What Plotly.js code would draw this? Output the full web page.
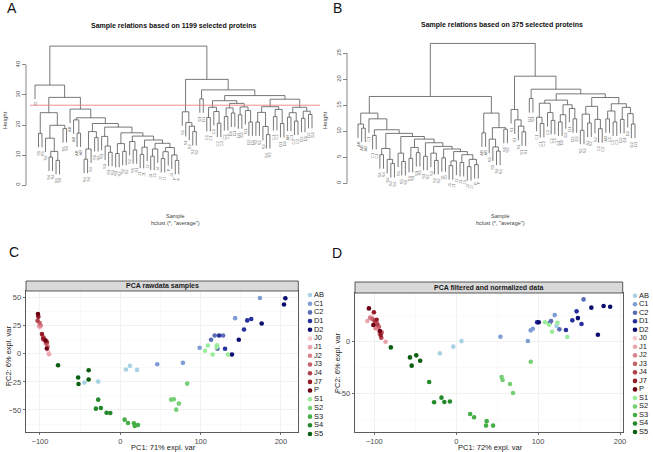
<!DOCTYPE html>
<html><head><meta charset="utf-8">
<script src="https://cdn.plot.ly/plotly-3.0.1.min.js"></script>
<style>html,body{margin:0;padding:0;background:#fff}#chart{width:653px;height:452px}</style>
</head><body><div id="chart"></div>
<script>
// ---------------- DATA ----------------
const groups = ["AB","C1","C2","D1","D2","J0","J1","J2","J3","J4","J7","P","S1","S2","S3","S4","S5"];
const groupColors = ["#a8d2e3","#7d9dd4","#5a6db6","#27309c","#0a0d6e","#f7c8ce","#eba3ad","#da828c","#c6616b","#b1424c","#951b27","#6d0012","#9aeb9a","#75d075","#46ae46","#23892a","#0b5e12"];

// Panel C: PCA raw data
const rawGroup = ["AB","AB","AB","AB","AB","C1","C1","C1","C1","C1","C2","C2","C2","C2","D1","D1","D1","D1","D1","D2","D2","D2","D2","D2",
 "J0","J0","J0","J1","J1","J1","J2","J2","J2","J3","J3","J3","J4","J4","J4","J7","J7","J7","P","P","P",
 "S1","S1","S1","S1","S1","S1","S2","S2","S2","S2","S2","S3","S3","S3","S3","S3","S4","S4","S4","S4","S4","S5","S5","S5","S5","S5"];
const rawPC1 = [-44.6,-27.5,7,12,20.8, 46,78,98.8,143,173.8, 113,117.5,128,121, 123,130.4,154,158,163, 139,147.5,176,203.8,205.5,
 -100,-93,-89.5, -101,-95,-88.8, -99,-96.3,-90.4, -100.4,-94.6,-92, -103,-95.4,-91.3, -102,-97.5,-96, -102.5,-91.5,-93,
 105.5,109,115,120.4,120,134, 63.3,66.7,72.9,69.6,83.3, 5.4,9.6,17,18,22, -27.5,-30.4,-24.2,-17.1,-12.5, -77.5,-52.5,-52,-39.4,-39.4];
const rawPC2 = [-25.6,-24.7,-14,-10.7,-14.3, -9.2,-8,5.4,31.8,49.7, 12.5,16.4,16.4,4.5, 16.4,4.5,21.7,29.8,31, -0.6,12.5,27,44,49.5,
 23.5,9.5,2, 24.5,12,-0.3, 25.3,15.2,6.5, 27.4,12.8,9, 29.5,14,10.4, 33,17.6,13.5, 35.4,4.8,11.8,
 2.7,7.5,-0.6,7.7,6,-0.6, -40.8,-40.5,-44.3,-49.7,-26.5, -58.6,-61.6,-61.9,-64.3,-63.4, -40.8,-48.8,-48.2,-52.4,-52.7, -10.1,-21.1,-26.8,-14.6,-22.9];

// Panel D: PCA filtered and normalized data
const normGroup = ["AB","AB","AB","AB","C1","C1","C1","C1","C1","C2","C2","C2","C2","C2","D1","D1","D1","D1","D1","D2","D2","D2","D2","D2","D2",
 "J0","J0","J0","J1","J1","J1","J2","J2","J2","J3","J3","J3","J4","J4","J4","J7","J7","J7","P","P","P",
 "S1","S1","S1","S1","S1","S2","S2","S2","S2","S2","S3","S3","S3","S3","S3","S4","S4","S4","S4","S4","S5","S5","S5","S5","S5"];
const normPC1 = [-20,-3.6,6.5,122.4, 54,87.5,91,93.6,120.3, 98.8,114.2,115.8,126,155.5, 99,134,141.8,147,153, 100.8,148.6,165,173,180,188,
 -103.5,-95,-97, -108.5,-86.3,-99.5, -105.3,-98.4,-93.5, -102.4,-94.4,-91, -99.6,-96.3,-91.5, -100.5,-97.2,-92.3, -106.6,-101.2,-93.2,
 108.5,113.4,123.6,117,135.7, 55.4,56.6,65.7,69.4,91, 17,21.8,37.2,36.4,45, -33,-27,-18,-14.5,-7.7, -79.8,-56.5,-48.8,-44,-54.4];
const normPC2 = [-11.3,-4.8,0.6,15.2, 4.8,0.7,11,12.6,25.8, 18.8,18.4,20,12,41, 18.8,11.3,20.7,29.4,17.1, 18.8,22.9,33,6.8,34.6,33.9,
 24.5,11,18.5, 20,0,17, 23.2,13,8, 22,14.5,9, 20,16.8,3.9, 28.5,21.3,6.5, 32.3,16.2,10.4,
 18.8,16.5,18.4,9.7,4.5, -34.2,-37.1,-41,-49.7,-19.4, -70,-73.2,-77,-81.3,-81.3, -39,-58.7,-54.2,-58.4,-58, -5.5,-15.2,-13.2,-18.4,-23.2];

// Dendrogram A (1199 proteins): node = [height, left, right], leaf = label
const treeA = [46.3,
  [33.3, "J0",
    [29.2,
      [24.1, [17.2,"S5","S5"], [19.9, [15.6,"S4",[11.2,[9.3,"S4","S4"],[8.2,"S5","S4"]]], [18.8,"S5","S4"]]],
      [25.3, "AB",
        [22.4,
          [21.7, "AB", [17.3,"AB","AB"]],
          [20.5,
            [17.8, [12.0,[8.6,"S4","S4"],"S4"], [15.8,"S5","S5"]],
            [19.3,
              [16.2, "S3", [13.0,"S3",[10.9,"S3","S3"]]],
              [17.4,
                [13.8, [10.5,"S3","S2"], [11.2,"S2","S2"]],
                [16.3,
                  [14.5, "S2", [11.7,"S1","S1"]],
                  [15.0,
                    [12.6, [10.2,"J1","J1"], "J2"],
                    [13.9,
                      [12.0, [9.6,"J3","J3"], "J4"],
                      [12.5, [11.1,[8.8,"J7","J7"],"P"], [10.0,"J4",[8.2,"P","P"]]]]]]]]]]]]],
  [35.2,
    [24.4, "S1", [20.8, "S1", [19.6, "S2", [17.8,"S2","S2"]]]],
    [31.7,
      [28.7, "D1", "D1"],
      [29.8,
        [28.1,
          [25.9, [22.5,"C1","C1"], [24.5,"C2",[20.6,"C2","C2"]]],
          [27.2, [25.7,[22.8,"C2","C1"],[24.0,"D1","D1"]], [26.0,[23.4,"D2","D2"],[24.8,"D1",[21.0,"D2","D2"]]]]],
        [28.6,
          [26.1, [24.2,[21.0,"S2","S2"],[19.5,"S2",[16.8,"S2","S2"]]], [25.2,[22.8,"C1","C2"],[20.5,"D1","D1"]]],
          [25.9, [24.1,[22.6,"AB","C1"],[21.3,"C2","C2"]], [24.6,[22.2,"D2","D1"],[23.5,"D2","D2"]]]]]]]];
const cutHeightA = 26.6;

// Dendrogram B (375 proteins)
const treeB = [26.9,
  [16.7,
    [13.5,
      [11.4, "AB", [10.6,"AB","AB"]],
      [12.4, "C1",
        [10.3, [9.2,"C1","C1"],
          [9.6, [6.7,[5.5,"S4","S4"],[4.6,"S4",[3.8,"S4","S4"]]],
            [9.0, [5.8,"S5",[4.2,"S5","S5"]],
              [8.5, [6.9,[4.8,"S3","S3"],[5.9,"S3","S3"]],
                [7.8, [5.2,"S3","S2"],
                  [7.1, [5.8,"S2",[4.4,"S2","S2"]],
                    [6.6, [4.9,"J0","J0"],
                      [6.1, [4.3,[3.4,"J1","J1"],"J2"],
                        [5.5, [4.0,"J3","J3"], [4.6,[3.2,"J4","J7"],[3.6,"P","P"]]]]]]]]]]]]],
    [13.5, [9.7,"AB","AB"], [10.7, [8.5,"S5",[7.0,"S5",[6.2,"S4","S4"]]], [10.4,"S5","S5"]]]],
  [20.6,
    [14.2, "S1", [12.2, "S1", [11.0, "S1", [9.9,"S1","S1"]]]],
    [18.1,
      [16.3, "D1", "D1"],
      [17.2,
        [16.0, [15.4,[12.7,"C1",[11.5,"C1","C2"]],[13.6,"C2",[12.1,"C2","C2"]]], [15.1,[13.2,[11.8,"D1","D2"],"D2"],[14.4,"D1",[12.4,"D2","D2"]]]],
        [16.5, [14.8,[13.3,[10.2,"S2","S2"],[11.6,"S2","S2"]],[12.3,"S2",[10.5,"C1","C2"]]], [15.3,[13.9,[12.4,"AB","C1"],[11.8,"C2","C2"]],[14.6,[12.3,"D2","D1"],[13.4,"D2",[11.4,"D2","D1"]]]]]]]]];

const dendroTicksA = [0,10,20,30,40];
const dendroTicksB = [0,5,10,15,20,25];

// ---------------- HELPERS ----------------
const W = 653, H = 452;
const fx = p => p / W;
const fy = p => 1 - p / H;
const FONT = "Liberation Sans, Arial, Helvetica, sans-serif";

function layoutTree(tree, hang) {
  const xs = [], ys = [], leaves = [];
  let idx = 0;
  function rec(node, parentH) {
    if (typeof node === "string") {
      idx++;
      const y = parentH - hang;
      leaves.push({x: idx, y: y, label: node});
      return {x: idx, y: y};
    }
    const h = node[0];
    const a = rec(node[1], h), b = rec(node[2], h);
    xs.push(a.x, a.x, b.x, b.x, null);
    ys.push(a.y, h, h, b.y, null);
    return {x: (a.x + b.x) / 2, y: h};
  }
  rec(tree, tree[0]);
  return {xs, ys, leaves, n: idx};
}

const traces = [];
const annotations = [];
const shapes = [];

function ann(px, py, text, o) {
  annotations.push(Object.assign({
    xref: "paper", yref: "paper", x: fx(px), y: fy(py), text: text, showarrow: false,
    xanchor: "center", yanchor: "middle", font: {family: FONT, size: 7, color: "#222"}
  }, o || {}));
}

// ---------------- DENDROGRAMS ----------------
function dendro(tree, ax, ay, leafPx0, leafPx1, domPx0, domPx1) {
  const hang = 0.1 * tree[0];
  const t = layoutTree(tree, hang);
  const s = (leafPx1 - leafPx0) / (t.n - 1);
  const r0 = 1 - (leafPx0 - domPx0) / s;
  const r1 = t.n + (domPx1 - leafPx1) / s;
  traces.push({type: "scatter", mode: "lines", x: t.xs, y: t.ys, xaxis: ax, yaxis: ay,
    line: {color: "#555", width: 0.8}, hoverinfo: "skip", showlegend: false, cliponaxis: false});
  t.leaves.forEach(l => {
    annotations.push({xref: ax, yref: ay, x: l.x, y: l.y, text: l.label, showarrow: false,
      textangle: -90, xanchor: "center", yanchor: "top", yshift: -1,
      font: {family: FONT, size: 4.2, color: "#777"}});
  });
  return [r0, r1];
}

const rA = dendro(treeA, "x", "y", 35, 312, 30, 318);
const rB = dendro(treeB, "x2", "y2", 358, 635, 352, 640);

// ---------------- PCA ----------------
function pca(groupArr, xArr, yArr, ax, ay) {
  groups.forEach((g, gi) => {
    const xs = [], ys = [];
    groupArr.forEach((gg, i) => { if (gg === g) { xs.push(xArr[i]); ys.push(yArr[i]); } });
    traces.push({type: "scatter", mode: "markers", x: xs, y: ys, xaxis: ax, yaxis: ay, name: g,
      marker: {color: groupColors[gi], size: 4.6, line: {width: 0}}, hoverinfo: "skip", showlegend: false});
  });
}
pca(rawGroup, rawPC1, rawPC2, "x3", "y3");
pca(normGroup, normPC1, normPC2, "x4", "y4");

// custom legends (drawn from the group arrays)
function legend(ax, ay) {
  traces.push({type: "scatter", mode: "markers+text", x: groups.map(() => 0.5), y: groups.map((g, i) => i),
    text: groups, textposition: "middle right", xaxis: ax, yaxis: ay, cliponaxis: false,
    textfont: {family: FONT, size: 7.5, color: "#1a1a1a"},
    marker: {color: groupColors, size: 4.6, line: {width: 0}}, hoverinfo: "skip", showlegend: false});
}
legend("x5", "y5");
legend("x6", "y6");

// ---------------- LAYOUT ----------------
const hidden = {visible: false, showgrid: false, zeroline: false, fixedrange: true};
const dendroY = (pos, dom, range, ticks) => ({
  domain: dom, range: range, anchor: "free", position: pos, showgrid: false, zeroline: false, showline: false,
  ticks: "outside", ticklen: 4, tickwidth: 0.7, tickcolor: "#555", tickvals: ticks, tickangle: -90,
  tickfont: {family: FONT, size: 6, color: "#555"}
});
const pcaX = (dom, range, anchor) => ({
  domain: dom, range: range, anchor: anchor, tickmode: "linear", tick0: 0, dtick: 100,
  ticks: "outside", ticklen: 2.5, tickwidth: 0.7, tickcolor: "#333",
  tickfont: {family: FONT, size: 7.5, color: "#4d4d4d"},
  showgrid: true, gridcolor: "#ebebeb", gridwidth: 0.7,
  minor: {tickmode: "linear", tick0: 0, dtick: 50, showgrid: true, gridcolor: "#f4f4f4", gridwidth: 0.5},
  zeroline: false, showline: true, mirror: true, linecolor: "#333", linewidth: 0.8
});
const pcaY = (dom, range, anchor, dt) => ({
  domain: dom, range: range, anchor: anchor, tickmode: "linear", tick0: 0, dtick: dt,
  ticks: "outside", ticklen: 2.5, tickwidth: 0.7, tickcolor: "#333",
  tickfont: {family: FONT, size: 7.5, color: "#4d4d4d"},
  showgrid: true, gridcolor: "#ebebeb", gridwidth: 0.7,
  minor: {tickmode: "linear", tick0: 0, dtick: dt / 2, showgrid: true, gridcolor: "#f4f4f4", gridwidth: 0.5},
  zeroline: false, showline: true, mirror: true, linecolor: "#333", linewidth: 0.8
});

// dendrogram axis lines and cut line
shapes.push({type: "line", xref: "paper", yref: "y", x0: fx(26), x1: fx(26), y0: 0, y1: 40, line: {color: "#555", width: 0.7}});
shapes.push({type: "line", xref: "paper", yref: "y2", x0: fx(347), x1: fx(347), y0: 0, y1: 25, line: {color: "#555", width: 0.7}});
shapes.push({type: "line", xref: "paper", yref: "y", x0: fx(30), x1: fx(320), y0: cutHeightA, y1: cutHeightA, line: {color: "#f08080", width: 0.9}});

// facet strips
shapes.push({type: "rect", xref: "paper", yref: "paper", x0: fx(26), x1: fx(298.3), y0: fy(291), y1: fy(281), fillcolor: "#d9d9d9", line: {color: "#333", width: 0.8}});
shapes.push({type: "rect", xref: "paper", yref: "paper", x0: fx(355), x1: fx(622.7), y0: fy(293), y1: fy(282), fillcolor: "#d9d9d9", line: {color: "#333", width: 0.8}});

// texts
ann(12, 8, "A", {font: {family: FONT, size: 14, color: "#111"}});
ann(337, 8, "B", {font: {family: FONT, size: 14, color: "#111"}});
ann(13.5, 252, "C", {font: {family: FONT, size: 14, color: "#111"}});
ann(337, 253, "D", {font: {family: FONT, size: 14, color: "#111"}});

ann(173, 26, "<b>Sample relations based on 1199 selected proteins</b>", {font: {family: FONT, size: 7, color: "#111"}});
ann(502, 25, "<b>Sample relations based on 375 selected proteins</b>", {font: {family: FONT, size: 7, color: "#111"}});
ann(5, 120, "Height", {textangle: -90, font: {family: FONT, size: 6, color: "#444"}});
ann(325, 120, "Height", {textangle: -90, font: {family: FONT, size: 6, color: "#444"}});
ann(175, 216, "Sample", {font: {family: FONT, size: 5.5, color: "#444"}});
ann(175, 222.5, "hclust (*, \"average\")", {font: {family: FONT, size: 5.5, color: "#444"}});
ann(500, 216, "Sample", {font: {family: FONT, size: 5.5, color: "#444"}});
ann(500, 222.5, "hclust (*, \"average\")", {font: {family: FONT, size: 5.5, color: "#444"}});

ann(162, 286, "<b>PCA rawdata samples</b>", {font: {family: FONT, size: 7, color: "#1a1a1a"}});
ann(489, 287.5, "<b>PCA filtered and normalized data</b>", {font: {family: FONT, size: 7, color: "#1a1a1a"}});
ann(163, 447.5, "PC1: 71% expl. var", {font: {family: FONT, size: 7.5, color: "#1a1a1a"}});
ann(490, 447.5, "PC1: 72% expl. var", {font: {family: FONT, size: 7.5, color: "#1a1a1a"}});
ann(8, 356, "PC2: 6% expl. var", {textangle: -90, font: {family: FONT, size: 7.5, color: "#1a1a1a"}});
ann(337, 363, "PC2: 6% expl. var", {textangle: -90, font: {family: FONT, size: 7.5, color: "#1a1a1a"}});

const layout = {
  width: W, height: H, margin: {l: 0, r: 0, t: 0, b: 0}, paper_bgcolor: "#fff", plot_bgcolor: "rgba(0,0,0,0)",
  showlegend: false, font: {family: FONT},
  xaxis: Object.assign({domain: [fx(30), fx(318)], range: rA, anchor: "y"}, hidden),
  yaxis: dendroY(fx(26), [fy(200), fy(40)], [-5, 48.33], dendroTicksA),
  xaxis2: Object.assign({domain: [fx(352), fx(640)], range: rB, anchor: "y2"}, hidden),
  yaxis2: dendroY(fx(347), [fy(200), fy(40)], [-3.21, 27.56], dendroTicksB),
  xaxis3: pcaX([fx(26), fx(298.3)], [-117.4, 221.6], "y3"),
  yaxis3: pcaY([fy(432), fy(291)], [-69.6, 55.97], "x3", 25),
  xaxis4: pcaX([fx(355), fx(622.7)], [-123.6, 203.3], "y4"),
  yaxis4: pcaY([fy(431.7), fy(293)], [-87.2, 47.2], "x4", 50),
  xaxis5: Object.assign({domain: [fx(305), fx(315)], range: [0, 1], anchor: "y5"}, hidden),
  yaxis5: Object.assign({domain: [fy(434), fy(295)], range: [16, 0], anchor: "x5"}, hidden),
  xaxis6: Object.assign({domain: [fx(630), fx(640)], range: [0, 1], anchor: "y6"}, hidden),
  yaxis6: Object.assign({domain: [fy(432), fy(295.7)], range: [16, 0], anchor: "x6"}, hidden),
  shapes: shapes, annotations: annotations
};

Plotly.newPlot("chart", traces, layout, {staticPlot: true, displayModeBar: false});
</script></body></html>
